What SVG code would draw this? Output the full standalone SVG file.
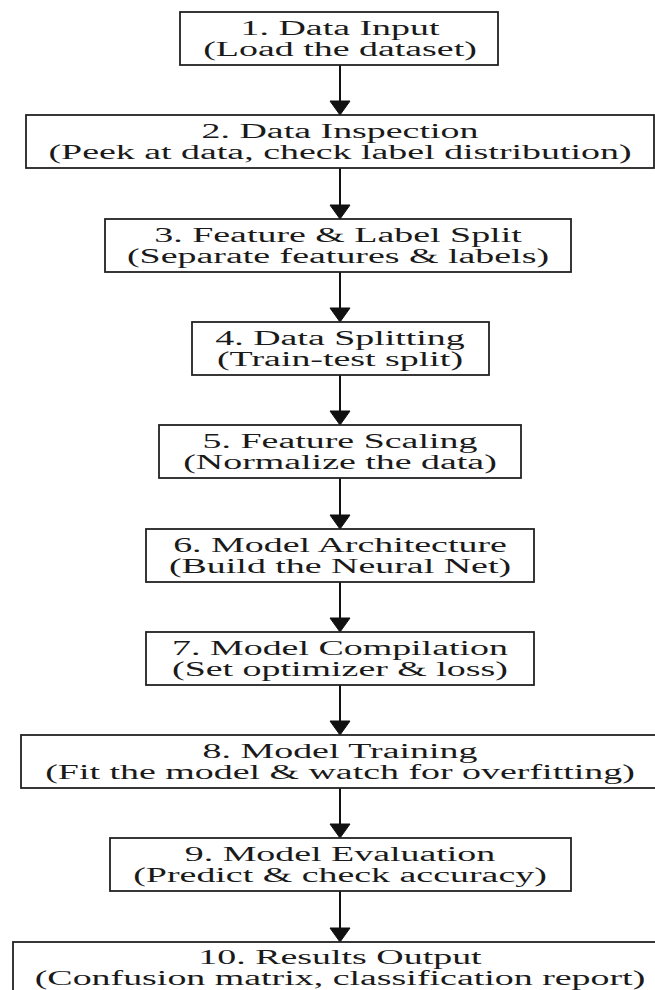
<svg xmlns="http://www.w3.org/2000/svg" width="655" height="990" viewBox="0 0 655 990">
<style>
.box{fill:#fff;stroke:#222;stroke-width:1.8}
.t{font-family:"Liberation Serif","Times New Roman",serif;font-size:20.5px;fill:#1a1a1a;text-anchor:middle}
.edge{stroke:#111;stroke-width:2;fill:none}
.head{fill:#111;stroke:#111;stroke-width:1}
</style>
<rect width="655" height="990" fill="#fff"/>
<g id="edges">
<line class="edge" x1="340" y1="65" x2="340" y2="101"/><polygon class="head" points="330,101 350,101 340,115"/>
<line class="edge" x1="340" y1="168" x2="340" y2="205"/><polygon class="head" points="330,205 350,205 340,219"/>
<line class="edge" x1="340" y1="272" x2="340" y2="308"/><polygon class="head" points="330,308 350,308 340,322"/>
<line class="edge" x1="340" y1="375" x2="340" y2="411"/><polygon class="head" points="330,411 350,411 340,425"/>
<line class="edge" x1="340" y1="478" x2="340" y2="515"/><polygon class="head" points="330,515 350,515 340,529"/>
<line class="edge" x1="340" y1="582" x2="340" y2="618"/><polygon class="head" points="330,618 350,618 340,632"/>
<line class="edge" x1="340" y1="685" x2="340" y2="721"/><polygon class="head" points="330,721 350,721 340,735"/>
<line class="edge" x1="340" y1="788" x2="340" y2="824"/><polygon class="head" points="330,824 350,824 340,838"/>
<line class="edge" x1="340" y1="891" x2="340" y2="928"/><polygon class="head" points="330,928 350,928 340,942"/>
</g>
<g id="n1"><rect class="box" x="180" y="12" width="318" height="53"/>
<text class="t" transform="translate(340,35) scale(1.85,1)">1. Data Input</text>
<text class="t" transform="translate(340,56) scale(1.85,1)">(Load the dataset)</text></g>
<g id="n2"><rect class="box" x="26" y="115" width="628" height="53"/>
<text class="t" transform="translate(340,138) scale(1.85,1)">2. Data Inspection</text>
<text class="t" transform="translate(340,159) scale(1.85,1)">(Peek at data, check label distribution)</text></g>
<g id="n3"><rect class="box" x="105" y="219" width="466" height="53"/>
<text class="t" transform="translate(338,242) scale(1.85,1)">3. Feature &amp; Label Split</text>
<text class="t" transform="translate(338,263) scale(1.85,1)">(Separate features &amp; labels)</text></g>
<g id="n4"><rect class="box" x="192" y="322" width="297" height="53"/>
<text class="t" transform="translate(340,345) scale(1.85,1)">4. Data Splitting</text>
<text class="t" transform="translate(340,366) scale(1.85,1)">(Train-test split)</text></g>
<g id="n5"><rect class="box" x="159" y="425" width="362" height="53"/>
<text class="t" transform="translate(340,448) scale(1.85,1)">5. Feature Scaling</text>
<text class="t" transform="translate(340,469) scale(1.85,1)">(Normalize the data)</text></g>
<g id="n6"><rect class="box" x="146" y="529" width="388" height="53"/>
<text class="t" transform="translate(340,552) scale(1.85,1)">6. Model Architecture</text>
<text class="t" transform="translate(340,573) scale(1.85,1)">(Build the Neural Net)</text></g>
<g id="n7"><rect class="box" x="146" y="632" width="388" height="53"/>
<text class="t" transform="translate(340,655) scale(1.85,1)">7. Model Compilation</text>
<text class="t" transform="translate(340,676) scale(1.85,1)">(Set optimizer &amp; loss)</text></g>
<g id="n8"><rect class="box" x="21" y="735" width="640" height="53"/>
<text class="t" transform="translate(340,758) scale(1.85,1)">8. Model Training</text>
<text class="t" transform="translate(340,779) scale(1.85,1)">(Fit the model &amp; watch for overfitting)</text></g>
<g id="n9"><rect class="box" x="110" y="838" width="461" height="53"/>
<text class="t" transform="translate(340,861) scale(1.85,1)">9. Model Evaluation</text>
<text class="t" transform="translate(340,882) scale(1.85,1)">(Predict &amp; check accuracy)</text></g>
<g id="n10"><rect class="box" x="13" y="942" width="654" height="53"/>
<text class="t" transform="translate(340,964) scale(1.85,1)">10. Results Output</text>
<text class="t" transform="translate(340,985) scale(1.85,1)">(Confusion matrix, classification report)</text></g>
</svg>
